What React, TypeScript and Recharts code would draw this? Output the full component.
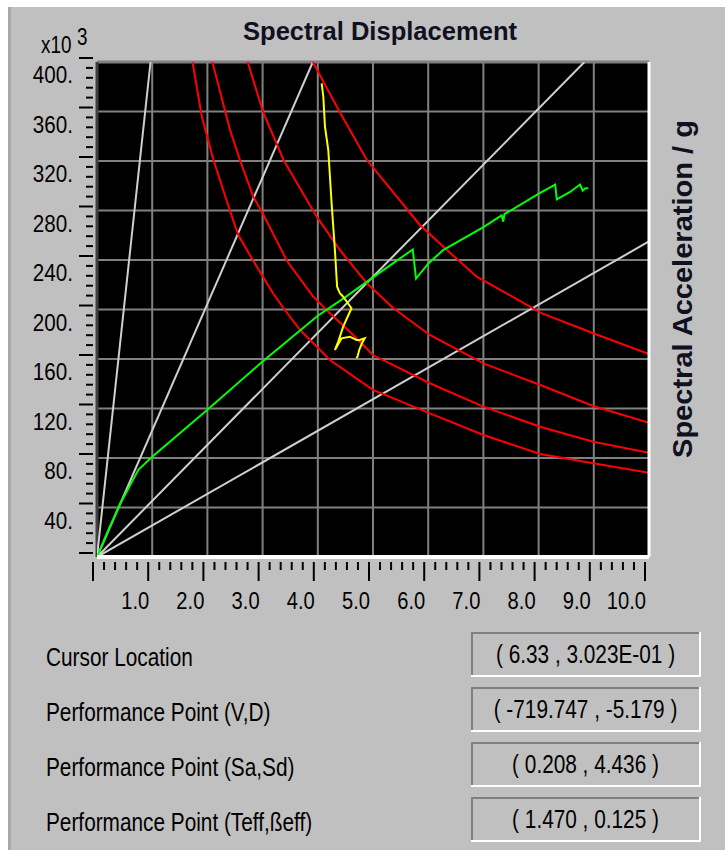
import React from 'react';
import { LineChart, Line, XAxis, YAxis, CartesianGrid, ReferenceLine } from 'recharts';

// ---------- axis ticks / labels ----------
const xMajorTicks = [1, 2, 3, 4, 5, 6, 7, 8, 9, 10];
const xTickLabels = ['1.0', '2.0', '3.0', '4.0', '5.0', '6.0', '7.0', '8.0', '9.0', '10.0'];
const yMajorTicks = [40, 80, 120, 160, 200, 240, 280, 320, 360, 400];
const yTickLabels = ['40.', '80.', '120.', '160.', '200.', '240.', '280.', '320.', '360.', '400.'];
const xAllTicks = Array.from({ length: 51 }, (_, i) => Math.round(i * 2) / 10);
const yAllTicks = Array.from({ length: 51 }, (_, i) => i * 8);

// ---------- constant-period radial lines (white) ----------
const periodLine1 = [{ x: 0, y: 0 }, { x: 0.97, y: 400 }];
const periodLine2 = [{ x: 0, y: 0 }, { x: 3.91, y: 400 }];
const periodLine3 = [{ x: 0, y: 0 }, { x: 8.83, y: 400 }];
const periodLine4 = [{ x: 0, y: 0 }, { x: 10, y: 255 }];

// ---------- demand spectra (red) ----------
const demand1 = [
  { x: 1.73, y: 400 }, { x: 1.9, y: 355.8 }, { x: 2.11, y: 320.8 }, { x: 2.41, y: 279.6 },
  { x: 2.56, y: 260.2 }, { x: 2.83, y: 239.4 }, { x: 3.19, y: 213.1 }, { x: 3.38, y: 201 },
  { x: 3.68, y: 183.4 }, { x: 4.04, y: 167.3 }, { x: 4.22, y: 159.2 }, { x: 5.0, y: 135 },
  { x: 6.03, y: 116.1 }, { x: 7.0, y: 98.6 }, { x: 8.03, y: 83.2 }, { x: 8.99, y: 75.7 },
  { x: 10, y: 68.1 },
];
const demand2 = [
  { x: 2.09, y: 400 }, { x: 2.41, y: 345.1 }, { x: 2.59, y: 320.8 }, { x: 2.83, y: 291.2 },
  { x: 2.98, y: 279.6 }, { x: 3.44, y: 239.4 }, { x: 3.92, y: 210.3 }, { x: 4.1, y: 202.3 },
  { x: 4.22, y: 196.9 }, { x: 4.61, y: 180.8 }, { x: 5.0, y: 163.2 }, { x: 6.03, y: 140.4 },
  { x: 7.0, y: 121.5 }, { x: 8.03, y: 105.3 }, { x: 8.99, y: 93.2 }, { x: 10, y: 84.3 },
];
const demand3 = [
  { x: 2.73, y: 400 }, { x: 3.01, y: 359.4 }, { x: 3.38, y: 320.8 }, { x: 3.98, y: 275 },
  { x: 4.4, y: 248.1 }, { x: 4.89, y: 221.2 }, { x: 5.37, y: 201 }, { x: 6.03, y: 179.4 },
  { x: 7.0, y: 156.5 }, { x: 8.03, y: 139 }, { x: 8.99, y: 122 }, { x: 10, y: 108.5 },
];
const demand4 = [
  { x: 3.91, y: 400 }, { x: 4.4, y: 359.4 }, { x: 4.89, y: 320.8 }, { x: 5.85, y: 268.3 },
  { x: 6.34, y: 248.1 }, { x: 6.88, y: 226.5 }, { x: 7.9, y: 201 }, { x: 8.03, y: 197.4 },
  { x: 8.99, y: 180.8 }, { x: 10, y: 164 },
];

// ---------- capacity curve (green) ----------
const capacity = [
  { x: 0, y: 0 }, { x: 0.18, y: 19 }, { x: 0.42, y: 43 }, { x: 0.75, y: 70.5 },
  { x: 1.0, y: 81 }, { x: 2.0, y: 119 }, { x: 3.0, y: 158 }, { x: 4.0, y: 195 },
  { x: 4.5, y: 210 }, { x: 5.0, y: 226 }, { x: 5.72, y: 248.5 }, { x: 5.78, y: 225 },
  { x: 6.0, y: 237 }, { x: 6.27, y: 248 }, { x: 7.0, y: 266.5 }, { x: 7.33, y: 276 },
  { x: 7.36, y: 271 }, { x: 7.38, y: 277 }, { x: 8.02, y: 294 }, { x: 8.3, y: 301 },
  { x: 8.33, y: 289 }, { x: 8.57, y: 295 }, { x: 8.75, y: 301 }, { x: 8.8, y: 296 },
  { x: 8.85, y: 298 }, { x: 8.9, y: 298 },
];

// ---------- performance point trail (yellow) ----------
const trail = [
  { x: 4.07, y: 382.8 }, { x: 4.1, y: 372 }, { x: 4.13, y: 347.7 }, { x: 4.19, y: 328.9 },
  { x: 4.22, y: 307.3 }, { x: 4.25, y: 285.8 }, { x: 4.31, y: 248.1 }, { x: 4.35, y: 218.4 },
  { x: 4.4, y: 213.1 }, { x: 4.46, y: 210.3 }, { x: 4.61, y: 201 }, { x: 4.46, y: 186.1 },
  { x: 4.37, y: 174 }, { x: 4.31, y: 167.3 }, { x: 4.43, y: 176.7 }, { x: 4.58, y: 178 },
  { x: 4.7, y: 175.4 }, { x: 4.76, y: 175.4 }, { x: 4.85, y: 176.7 }, { x: 4.8, y: 172.7 },
  { x: 4.75, y: 167.3 }, { x: 4.72, y: 161.9 }, { x: 4.7, y: 160.6 },
];

// ---------- bottom panel ----------
const infoLabels = ['Cursor Location', 'Performance Point (V,D)', 'Performance Point (Sa,Sd)', 'Performance Point (Teff,ßeff)'];
const infoValues = ['( 6.33 , 3.023E-01 )', '( -719.747 , -5.179 )', '( 0.208 , 4.436 )', '( 1.470 , 0.125 )'];

const FONT = "'Liberation Sans', Arial, sans-serif";

function XTick(props: any) {
  const { x, y, payload } = props;
  const v = payload.value;
  const major = Math.abs(v - Math.round(v)) < 1e-6;
  const tx = x - 4;
  const idx = xMajorTicks.indexOf(Math.round(v));
  return (
    <g>
      <line x1={tx} x2={tx} y1={y + 5} y2={y + (major ? 24 : 13)} stroke="#000" strokeWidth={2} />
      {major && idx >= 0 && (
        <text
          transform={`translate(${tx + 1},${y + 52}) scale(0.84,1)`}
          textAnchor="end"
          fontSize={24}
          fontFamily={FONT}
          fill="#000"
        >
          {xTickLabels[idx]}
        </text>
      )}
    </g>
  );
}

function YTick(props: any) {
  const { x, y, payload } = props;
  const v = payload.value;
  const major = v % 40 === 0;
  const ty = y - 4;
  const idx = yMajorTicks.indexOf(v);
  return (
    <g>
      <line x1={x - (major ? 18 : 11)} x2={x - 4} y1={ty} y2={ty} stroke="#000" strokeWidth={2} />
      {major && idx >= 0 && (
        <text
          transform={`translate(${x - 24},${y + 21}) scale(0.86,1)`}
          textAnchor="end"
          fontSize={24}
          fontFamily={FONT}
          fill="#000"
        >
          {yTickLabels[idx]}
        </text>
      )}
    </g>
  );
}

const lineCommon = { dataKey: 'y', dot: false, isAnimationActive: false, type: 'linear' as const, strokeWidth: 2 };

export default function App() {
  const rowCenters = [654, 709, 764, 819];
  return (
    <div style={{ position: 'absolute', left: 0, top: 0, width: 725, height: 850, background: '#ffffff', overflow: 'hidden' }}>
      <div
        style={{
          position: 'absolute', left: 8, top: 7, width: 717, height: 843,
          background: '#c0c0c0', borderLeft: '3px solid #a8a8a8', boxSizing: 'border-box',
        }}
      />
      <div style={{ position: 'absolute', left: 0, top: 0 }}>
        <LineChart width={725} height={850} margin={{ top: 62, right: 76, bottom: 0, left: 0 }}>
          <CartesianGrid
            fill="#000000"
            fillOpacity={1}
            stroke="#808080"
            strokeWidth={2}
            horizontalValues={yMajorTicks}
            verticalValues={xMajorTicks}
          />
          <XAxis
            dataKey="x"
            type="number"
            domain={[0, 10]}
            ticks={xAllTicks}
            interval={0}
            allowDataOverflow
            height={293}
            tickSize={0}
            tickMargin={0}
            tickLine={false}
            axisLine={false}
            tick={<XTick />}
          />
          <YAxis
            type="number"
            domain={[0, 400]}
            ticks={yAllTicks}
            interval={0}
            allowDataOverflow
            width={97}
            tickSize={0}
            tickMargin={0}
            tickLine={false}
            axisLine={false}
            tick={<YTick />}
          />
          <ReferenceLine y={400} stroke="#808080" strokeWidth={3} />
          <ReferenceLine x={0} stroke="#404040" strokeWidth={3} />
          <Line {...lineCommon} data={periodLine1} stroke="#cfcfcf" />
          <Line {...lineCommon} data={periodLine2} stroke="#cfcfcf" />
          <Line {...lineCommon} data={periodLine3} stroke="#cfcfcf" />
          <Line {...lineCommon} data={periodLine4} stroke="#cfcfcf" />
          <Line {...lineCommon} data={demand1} stroke="#ff0000" />
          <Line {...lineCommon} data={demand2} stroke="#ff0000" />
          <Line {...lineCommon} data={demand3} stroke="#ff0000" />
          <Line {...lineCommon} data={demand4} stroke="#ff0000" />
          <Line {...lineCommon} data={capacity} stroke="#00ff00" />
          <Line {...lineCommon} data={trail} stroke="#ffff00" />
          <ReferenceLine x={10} stroke="#ffffff" strokeWidth={3} />
          <ReferenceLine y={0} stroke="#ffffff" strokeWidth={4} />
        </LineChart>
      </div>
      <svg width={725} height={850} style={{ position: 'absolute', left: 0, top: 0, pointerEvents: 'none' }}>
        <text x={243} y={39.5} fontSize={26} fontWeight="bold" fontFamily={FONT} fill="#101020" textLength={274} lengthAdjust="spacingAndGlyphs">
          Spectral Displacement
        </text>
        <text transform="translate(41,52.5) scale(0.82,1)" fontSize={23} fontFamily={FONT} fill="#000">x10</text>
        <text transform="translate(77,45) scale(0.82,1)" fontSize={23} fontFamily={FONT} fill="#000">3</text>
        <text
          transform="translate(692,289) rotate(-90)"
          textAnchor="middle"
          fontSize={28}
          fontWeight="bold"
          fontFamily={FONT}
          fill="#101020"
          textLength={338}
          lengthAdjust="spacingAndGlyphs"
        >
          Spectral Acceleration / g
        </text>
        {infoLabels.map((t, i) => (
          <text key={t} transform={`translate(46,${rowCenters[i] + 12}) scale(0.8,1)`} fontSize={26} fontFamily={FONT} fill="#000">
            {t}
          </text>
        ))}
        {infoValues.map((t, i) => {
          const top = rowCenters[i] - 22;
          return (
            <g key={t}>
              <line x1={471} x2={700} y1={top + 1} y2={top + 1} stroke="#808080" strokeWidth={2} />
              <line x1={472} x2={472} y1={top} y2={top + 44} stroke="#808080" strokeWidth={2} />
              <line x1={471} x2={701} y1={top + 44} y2={top + 44} stroke="#ffffff" strokeWidth={2} />
              <line x1={700} x2={700} y1={top} y2={top + 45} stroke="#ffffff" strokeWidth={2} />
              <text transform={`translate(585.5,${rowCenters[i] + 9}) scale(0.8,1)`} textAnchor="middle" fontSize={26} fontFamily={FONT} fill="#000">
                {t}
              </text>
            </g>
          );
        })}
      </svg>
    </div>
  );
}
